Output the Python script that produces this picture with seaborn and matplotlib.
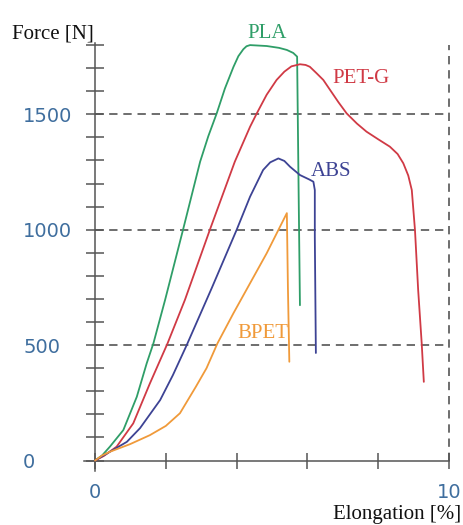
import matplotlib
matplotlib.use('Agg')
import matplotlib.pyplot as plt
from matplotlib.ticker import MultipleLocator
import pandas as pd
import seaborn as sns


# tensile curves: elongation [%] / force [N]
pla_x = [0, 0.20, 0.42, 0.80, 1.18, 1.46, 1.65, 1.98, 2.49, 2.97, 3.20, 3.44, 3.67, 3.91, 4.05, 4.19, 4.28,
         4.38, 4.85, 5.20, 5.42, 5.60, 5.71, 5.75, 5.79]
pla_y = [0, 22, 60, 132, 276, 421, 508, 696, 1002, 1295, 1405, 1505, 1612, 1705, 1752, 1782, 1795,
         1800, 1796, 1788, 1779, 1766, 1750, 1200, 673]

petg_x = [0, 0.25, 0.61, 1.08, 1.55, 2.05, 2.54, 3.25, 3.95, 4.38, 4.57, 4.85, 5.13, 5.35, 5.55, 5.79, 5.95,
          6.07, 6.26, 6.45, 6.64, 6.88, 7.11, 7.40, 7.67, 8.00, 8.33, 8.55, 8.71, 8.85, 8.95, 9.04, 9.13, 9.23, 9.29]
petg_y = [0, 20, 60, 161, 334, 508, 696, 1002, 1295, 1446, 1504, 1585, 1649, 1685, 1708, 1717, 1714,
          1706, 1678, 1649, 1606, 1552, 1504, 1460, 1425, 1392, 1360, 1328, 1288, 1235, 1172, 999, 739, 508, 341]

abs_x = [0, 0.42, 0.90, 1.27, 1.84, 2.20, 2.59, 3.30, 4.00, 4.38, 4.75, 4.95, 5.18, 5.35, 5.51,
         5.79, 6.05, 6.17, 6.21, 6.21, 6.24]
abs_y = [0, 38, 81, 140, 262, 370, 500, 748, 999, 1143, 1259, 1292, 1309, 1298, 1273,
         1237, 1218, 1208, 1172, 970, 466]

bpet_x = [0, 0.20, 0.42, 0.99, 1.55, 2.00, 2.40, 2.85, 3.15, 3.46, 3.91, 4.85, 5.42, 5.45, 5.49]
bpet_y = [0, 22, 38, 71, 110, 150, 205, 320, 400, 508, 638, 898, 1072, 750, 428]

materials = ['PLA', 'PET-G', 'ABS', 'BPET']
colors = {'PLA': '#2f9e68', 'PET-G': '#d03a45', 'ABS': '#3d4394', 'BPET': '#f09a3a'}

x_ticks = [0, 2, 4, 6, 8, 10]
x_tick_labels = ['0', '', '', '', '', '10']
y_ticks = [0, 500, 1000, 1500]
y_tick_labels = ['0', '500', '1000', '1500']
grid_y = [500, 1000, 1500]

frames = []
for name, xs, ys in zip(materials, [pla_x, petg_x, abs_x, bpet_x], [pla_y, petg_y, abs_y, bpet_y]):
    frames.append(pd.DataFrame({'material': name, 'elongation': xs, 'force': ys}))
df = pd.concat(frames, ignore_index=True)

sns.set_style('white')
plt.rcParams['font.family'] = ['DejaVu Sans']

fig = plt.figure(figsize=(4.64, 5.25), dpi=100)
ax = fig.add_axes([0.1819, 0.1030, 0.7933, 0.8155])

axis_grey = '#555555'

# dashed reference lines
ax.hlines(grid_y, 0, 10, colors=axis_grey, linestyles=(0, (5, 3.5)), lw=1.2, zorder=1)
ax.vlines(10, 0, 1800, colors=axis_grey, linestyles=(0, (5, 3.5)), lw=1.2, zorder=1)

sns.lineplot(
    data=df, x='elongation', y='force', hue='material', palette=colors,
    sort=False, estimator=None, legend=False, lw=1.3, ax=ax, zorder=3
)

ax.set_xlim(-0.3, 10.1)
ax.set_ylim(-45, 1810)
ax.set_xlabel('')
ax.set_ylabel('')

# spines crossing at the origin
for side in ['top', 'right']:
    ax.spines[side].set_visible(False)
ax.spines['left'].set_position(('data', 0))
ax.spines['left'].set_bounds(-45, 1810)
ax.spines['bottom'].set_position(('data', 0))
ax.spines['bottom'].set_bounds(-0.3, 10)
for side in ['left', 'bottom']:
    ax.spines[side].set_color(axis_grey)
    ax.spines[side].set_linewidth(1.1)

ax.set_xticks(x_ticks, x_tick_labels)
ax.set_yticks(y_ticks, y_tick_labels)
ax.yaxis.set_minor_locator(MultipleLocator(100))
ax.tick_params(axis='y', which='both', left=True, direction='inout', length=13, width=1.1,
               color=axis_grey, pad=45.3, labelsize=14, labelcolor='#3f6e9e')
ax.tick_params(axis='x', which='both', bottom=True, direction='inout', length=11, width=1.1,
               color=axis_grey, pad=10.5, labelsize=14, labelcolor='#3f6e9e')
for t in ax.get_yticklabels():
    t.set_ha('left')

# series names
serif = 'Liberation Serif'
labels = {'PLA': (4.86, 1831), 'PET-G': (7.51, 1634), 'ABS': (6.67, 1233), 'BPET': (4.73, 529)}
for name, (lx, ly) in labels.items():
    ax.text(lx, ly, name, color=colors[name], fontsize=15, family=serif,
            ha='center', va='baseline')

fig.text(12 / 464, 1 - 38 / 525, 'Force [N]', fontsize=15, family=serif,
         ha='left', va='baseline', color='#111111')
fig.text(461 / 464, 1 - 519 / 525, 'Elongation [%]', fontsize=15, family=serif,
         ha='right', va='baseline', color='#111111')

fig.savefig('out.png', dpi=100)
